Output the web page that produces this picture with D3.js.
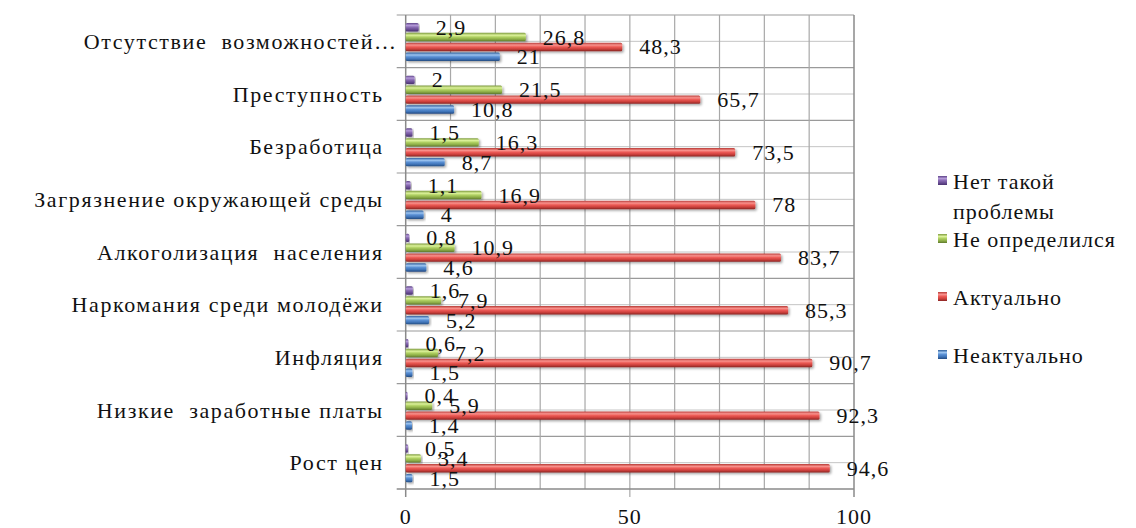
<!DOCTYPE html>
<html><head><meta charset="utf-8"><script src="https://cdn.jsdelivr.net/npm/d3@7"></script>
<style>
  html, body { margin: 0; padding: 0; background: #fff; }
  svg text { font-family: "Liberation Serif", "Times New Roman", serif !important; }
</style>
</head>
<body>
<svg id="s" width="1136" height="528" style="display:block"></svg>
<script>
// ---- data ----
const categories = [
  "Отсутствие\u00a0 возможностей…",
  "Преступность",
  "Безработица",
  "Загрязнение окружающей среды",
  "Алкоголизация\u00a0 населения",
  "Наркомания среди молодёжи",
  "Инфляция",
  "Низкие\u00a0 заработные платы",
  "Рост цен"
];
const seriesNames = ["Нет такой проблемы", "Не определился", "Актуально", "Неактуально"];
const netProblemy  = [2.9, 2, 1.5, 1.1, 0.8, 1.6, 0.6, 0.4, 0.5];
const neOpredelil  = [26.8, 21.5, 16.3, 16.9, 10.9, 7.9, 7.2, 5.9, 3.4];
const aktualno     = [48.3, 65.7, 73.5, 78, 83.7, 85.3, 90.7, 92.3, 94.6];
const neaktualno   = [21, 10.8, 8.7, 4, 4.6, 5.2, 1.5, 1.4, 1.5];
const xTicks = [0, 50, 100];

const seriesValues = [netProblemy, neOpredelil, aktualno, neaktualno];
const seriesKeys = ["purple", "green", "red", "blue"];

const FS = 22;
const FONT = '"Liberation Serif", "Times New Roman", serif';
const pl = 405.7, pr = 854, pt = 15, pb = 489;

const svg = d3.select("#s").attr("font-family", FONT);
const defs = svg.append("defs");

const grads = {
  purple: ["#5e4388", "#b49ad8", "#8a6cb4", "#6a4e94", "#4a3270"],
  green:  ["#7f9c40", "#dcf29a", "#afd062", "#8eae48", "#5f7a2c"],
  red:    ["#b83c38", "#f8908c", "#ec5a55", "#cc403c", "#8a2624"],
  blue:   ["#2f5f9c", "#9cc4f0", "#5a90d4", "#3f74b8", "#244a80"]
};
Object.entries(grads).forEach(([k, cs]) => {
  const g = defs.append("linearGradient").attr("id", "g-" + k)
    .attr("x1", 0).attr("x2", 0).attr("y1", 0).attr("y2", 1);
  [0, 0.28, 0.5, 0.75, 1].forEach((o, i) =>
    g.append("stop").attr("offset", o).attr("stop-color", cs[i]));
});
const shadow = defs.append("filter").attr("id", "shadow")
  .attr("x", "-5%").attr("y", "-30%").attr("width", "115%").attr("height", "190%");
shadow.append("feDropShadow").attr("dx", 1.5).attr("dy", 1.5).attr("stdDeviation", 1)
  .attr("flood-color", "#000").attr("flood-opacity", 0.35);

const xs = d3.scaleLinear().domain([0, 100]).range([pl, pr]);
const ys = d3.scaleBand().domain(categories).range([pt, pb]);
const yInner = d3.scaleBand().domain(seriesNames).range([8, 46]).paddingInner(0.15);

function addText(parent, str, px, py, ls, anchor) {
  const t = parent.append("text").attr("x", px).attr("y", py).attr("font-size", FS)
    .attr("font-family", FONT).attr("fill", "#111")
    .text(str);
  if (ls) t.attr("letter-spacing", ls);
  if (anchor) t.attr("text-anchor", anchor);
  return t;
}

// ---- grid ----
const grid = svg.append("g");
categories.forEach((c) => {
  const yc = ys(c) + ys.bandwidth() / 2;
  grid.append("line").attr("x1", pl).attr("x2", pr).attr("y1", yc).attr("y2", yc)
    .attr("stroke", "#c4c4c4").attr("stroke-width", 1);
});
categories.forEach((c) => {
  const y0 = ys(c);
  grid.append("line").attr("x1", pl - 9).attr("x2", pr).attr("y1", y0).attr("y2", y0)
    .attr("stroke", "#9a9a9a").attr("stroke-width", 1.2);
});
d3.range(10, 101, 10).forEach(v => {
  const yEnd = v === 10 ? ys(categories[2]) : (v === 50 || v === 100 ? pb + 8 : pb);
  grid.append("line").attr("x1", xs(v)).attr("x2", xs(v)).attr("y1", pt).attr("y2", yEnd)
    .attr("stroke", v === 100 ? "#8a8a8a" : "#a8a8a8").attr("stroke-width", v === 100 ? 1.5 : 1.2);
});
svg.append("line").attr("x1", pl - 9).attr("x2", pr).attr("y1", pb).attr("y2", pb)
  .attr("stroke", "#8a8a8a").attr("stroke-width", 1.5);
svg.append("line").attr("x1", pl).attr("x2", pl).attr("y1", pt).attr("y2", pb + 8)
  .attr("stroke", "#8a8a8a").attr("stroke-width", 1.5);

const textG = svg.append("g");
xTicks.forEach(d => addText(textG, String(d), xs(d), 524, 1, "middle"));
categories.forEach(c => addText(textG, c, c.endsWith("…") ? pl - 8 : pl - 22,
  ys(c) + ys.bandwidth() / 2 + 7.5, 1.6, "end"));

// bars + value labels
const fmt = v => String(v).replace(".", ",");
const barsG = svg.append("g");
const labelsG = svg.append("g");
seriesNames.forEach((s, si) => {
  const vals = seriesValues[si];
  barsG.append("g").selectAll("rect").data(categories).join("rect")
    .attr("x", pl)
    .attr("y", (c) => ys(c) + yInner(s))
    .attr("width", (c, i) => xs(vals[i]) - pl)
    .attr("height", yInner.bandwidth())
    .attr("rx", 1.5)
    .attr("fill", `url(#g-${seriesKeys[si]})`)
    .attr("filter", "url(#shadow)");
  categories.forEach((c, i) =>
    addText(labelsG, fmt(vals[i]), xs(vals[i]) + 17,
      ys(c) + yInner(s) + yInner.bandwidth() / 2 + 7.5, 1));
});

// legend
const legendItems = [
  { key: "purple", lines: ["Нет такой", "проблемы"], y: 181 },
  { key: "green", lines: ["Не определился"], y: 239 },
  { key: "red", lines: ["Актуально"], y: 297 },
  { key: "blue", lines: ["Неактуально"], y: 355 }
];
const leg = svg.append("g");
legendItems.forEach((it) => {
  leg.append("rect").attr("x", 938).attr("y", it.y - 5).attr("width", 9).attr("height", 9)
    .attr("fill", `url(#g-${it.key})`);
  it.lines.forEach((ln, j) => addText(leg, ln, 953, it.y + j * 30 + 7.5, 1));
});
</script></body></html>
